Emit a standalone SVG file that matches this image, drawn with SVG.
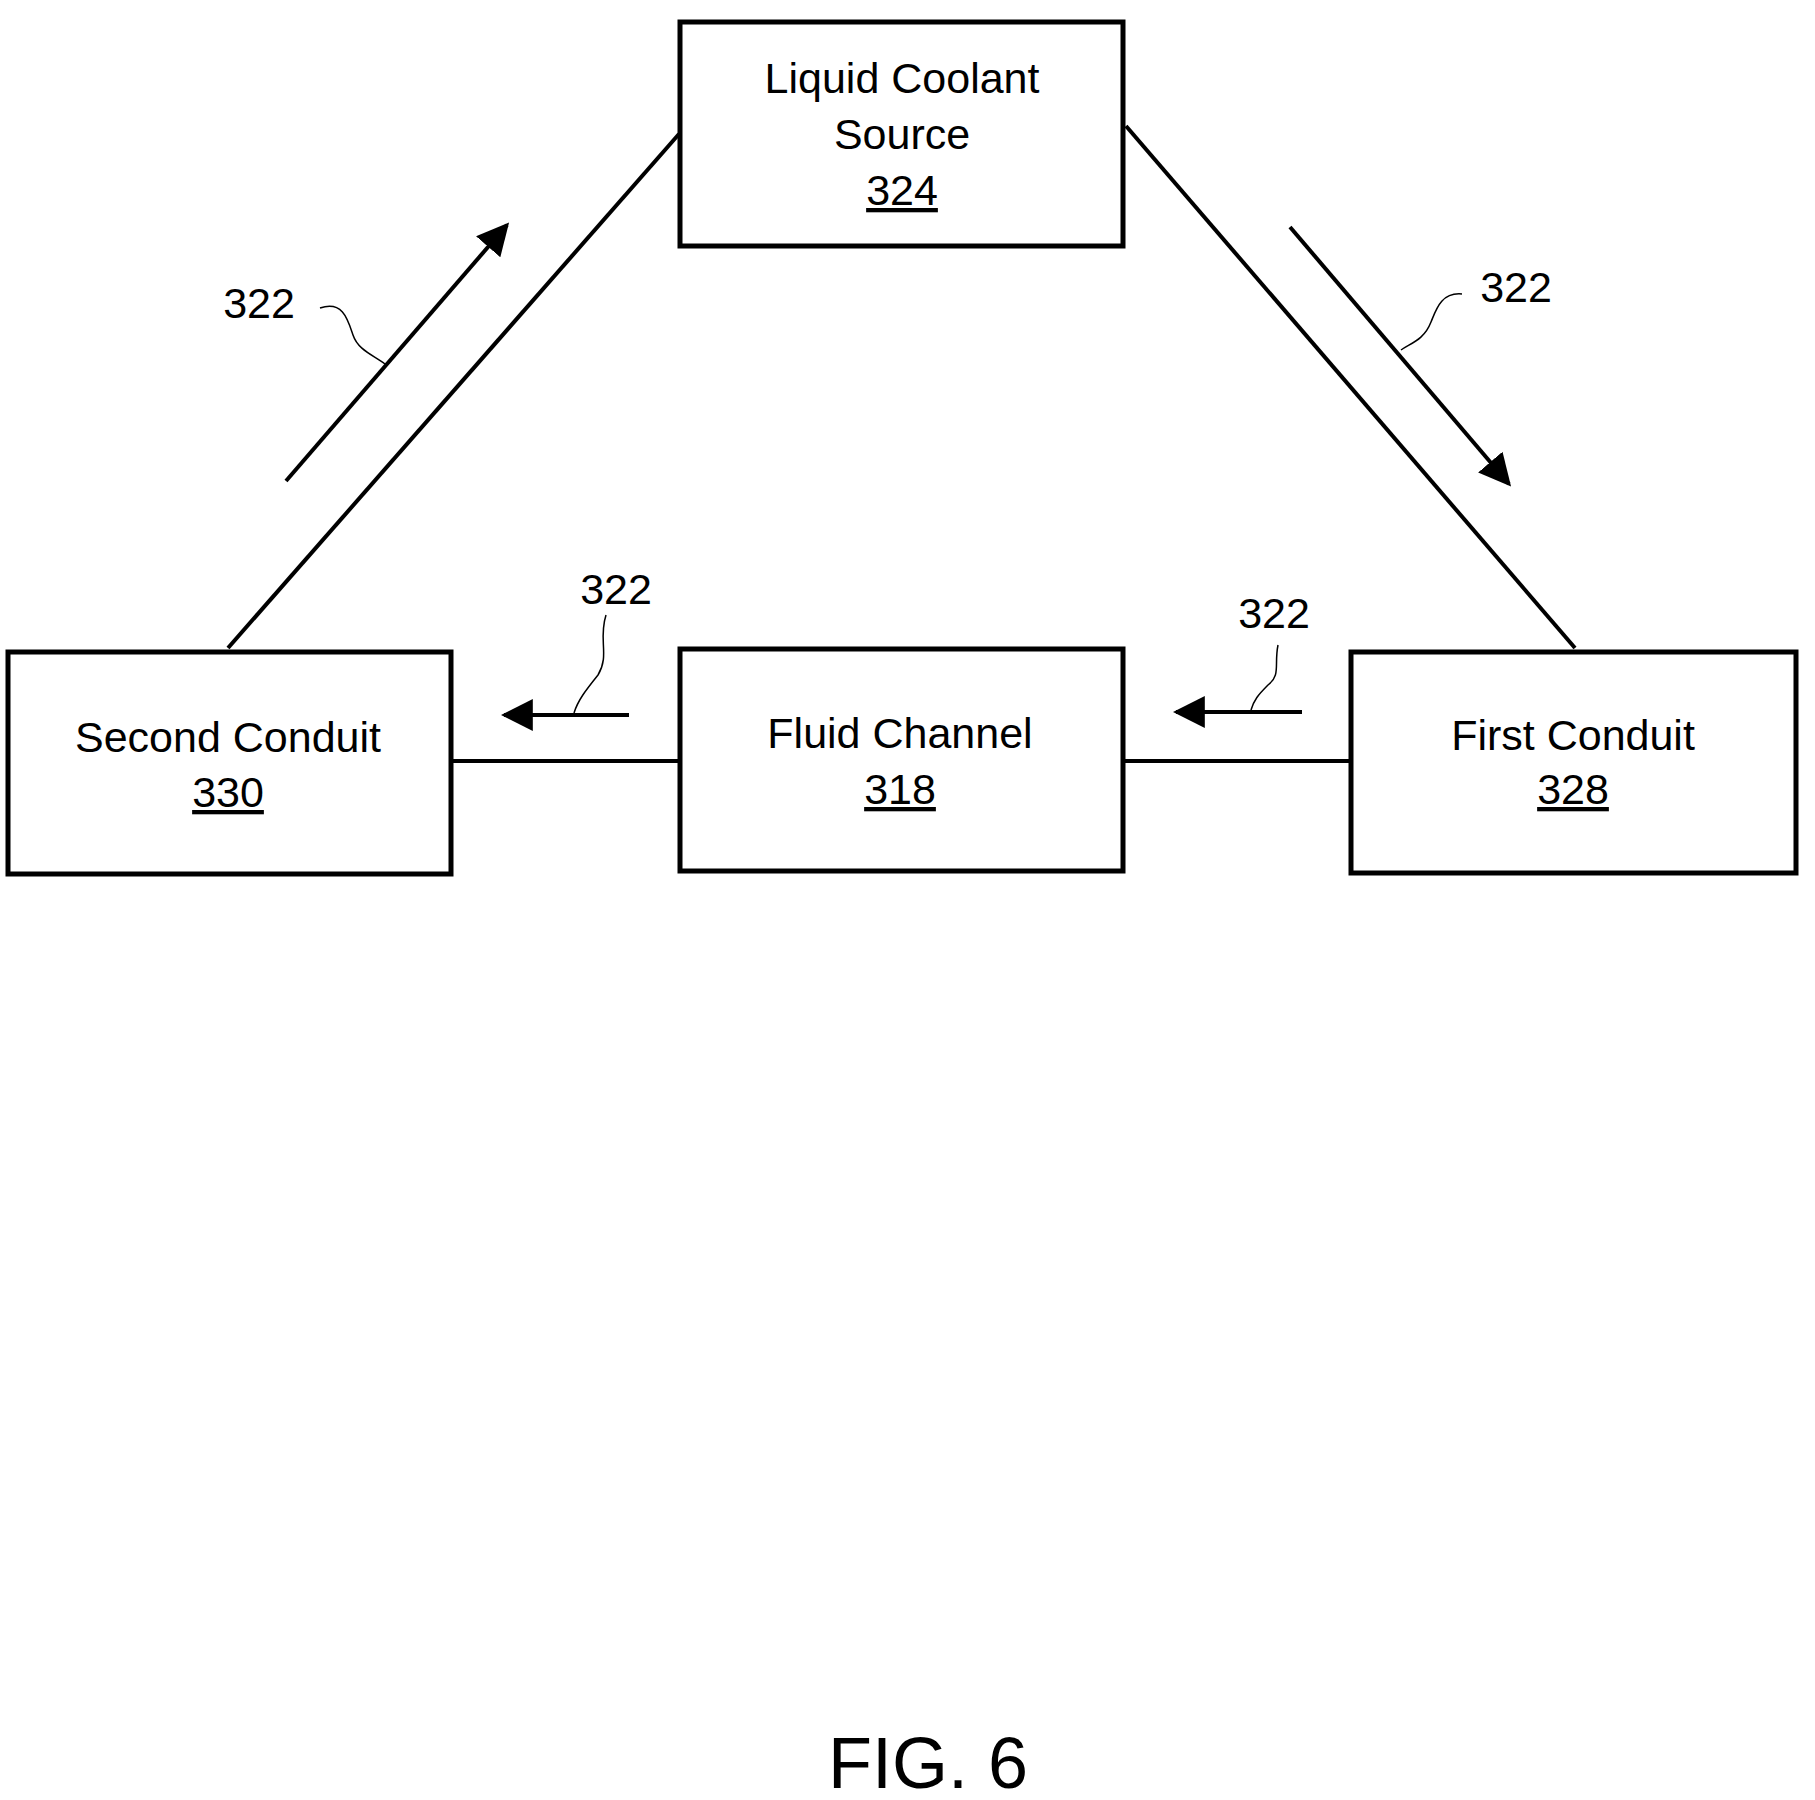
<svg xmlns="http://www.w3.org/2000/svg" width="1815" height="1800" viewBox="0 0 1815 1800">
<defs>
<style>
.box{fill:#fff;stroke:#000;stroke-width:5}
.ln{stroke:#000;stroke-width:4;fill:none}
.ld{stroke:#000;stroke-width:1.5;fill:none}
text{font-family:"Liberation Sans",Arial,sans-serif;font-size:43px;text-anchor:middle;fill:#000}
.u{text-decoration:underline}
</style>
<marker id="ah2" viewBox="0 0 10 10" refX="9" refY="5" markerWidth="8" markerHeight="8" orient="auto"><path d="M0,0 L10,5 L0,10 z"/></marker>
</defs>
<rect width="1815" height="1800" fill="#fff"/>
<g id="connectors">
<line class="ln" x1="228" y1="648" x2="679" y2="134"/>
<line class="ln" x1="1126" y1="126" x2="1575" y2="648"/>
<line class="ln" x1="451" y1="761" x2="680" y2="761"/>
<line class="ln" x1="1123" y1="761" x2="1351" y2="761"/>
<line class="ln" x1="286" y1="481" x2="507" y2="225" marker-end="url(#ah2)"/>
<line class="ln" x1="1290" y1="227" x2="1509" y2="484" marker-end="url(#ah2)"/>
<line class="ln" x1="629" y1="715" x2="504" y2="715" marker-end="url(#ah2)"/>
<line class="ln" x1="1302" y1="712" x2="1176" y2="712" marker-end="url(#ah2)"/>
<path class="ld" d="M320,308 C343,300 348,320 353,335 C358,350 373,355 385,364"/>
<path class="ld" d="M1462,294 C1441,292 1436,310 1431,322 C1424,340 1411,343 1401,350"/>
<path class="ld" d="M606,615 C598,640 610,655 598,675 C586,690 578,700 574,713"/>
<path class="ld" d="M1278,645 C1274,665 1281,675 1268,685 C1258,695 1254,700 1251,710"/>
<text x="259" y="318">322</text>
<text x="1516" y="302">322</text>
<text x="616" y="604">322</text>
<text x="1274" y="628">322</text>
</g>
<g id="n324"><rect class="box" x="680" y="22" width="443" height="224"/>
<text x="902" y="93">Liquid Coolant</text><text x="902" y="149">Source</text><text class="u" x="902" y="205">324</text></g>
<g id="n330"><rect class="box" x="8" y="652" width="443" height="222"/>
<text x="228" y="752">Second Conduit</text><text class="u" x="228" y="807">330</text></g>
<g id="n318"><rect class="box" x="680" y="649" width="443" height="222"/>
<text x="900" y="748">Fluid Channel</text><text class="u" x="900" y="804">318</text></g>
<g id="n328"><rect class="box" x="1351" y="652" width="445" height="221"/>
<text x="1573" y="750">First Conduit</text><text class="u" x="1573" y="804">328</text></g>
<text x="928" y="1788" style="font-size:72px">FIG. 6</text>
</svg>
